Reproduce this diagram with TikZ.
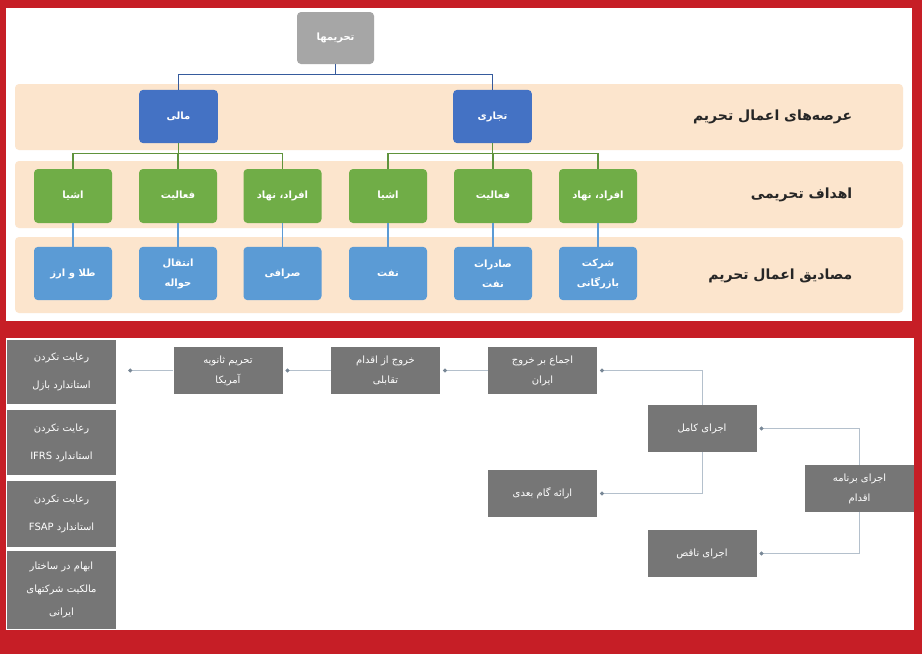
\documentclass[tikz,border=0pt]{standalone}
\usepackage{fontspec}
\newfontfamily\arabicfont[Script=Arabic]{DejaVu Sans}
\TeXXeTstate=1
\newcommand{\fa}[1]{\beginR #1\endR}
\usetikzlibrary{arrows.meta}

\definecolor{framered}{RGB}{198,30,38}
\definecolor{bandpeach}{RGB}{252,229,205}
\definecolor{rootgray}{RGB}{166,166,166}
\definecolor{fieldblue}{RGB}{68,114,196}
\definecolor{targetgreen}{RGB}{112,173,71}
\definecolor{caseblue}{RGB}{91,155,213}
\definecolor{stepgray}{RGB}{118,118,118}
\definecolor{linkgray}{RGB}{180,192,204}
\definecolor{linkdot}{RGB}{120,135,150}

\tikzset{
  chartbox/.style={rounded corners=3pt, text=white, align=center, inner sep=1pt,
    font=\arabicfont\bfseries\fontsize{7.5}{15}\selectfont},
  rootbox/.style={chartbox, fill=rootgray, minimum width=57.75pt, minimum height=39pt},
  fieldbox/.style={chartbox, fill=fieldblue, minimum width=59pt, minimum height=40pt},
  targetbox/.style={chartbox, fill=targetgreen, minimum width=58.5pt, minimum height=40.5pt},
  casebox/.style={chartbox, fill=caseblue, minimum width=58.5pt, minimum height=40pt},
  bandlabel/.style={anchor=east, text=black!85, font=\arabicfont\bfseries\fontsize{10.5}{12}\selectfont},
  rootline/.style={draw=fieldblue!80!black, line width=1pt},
  greenline/.style={draw=targetgreen!85!black, line width=1pt},
  caseline/.style={draw=caseblue, line width=1pt},
  stepbox/.style={fill=stepgray, text=white, align=center, inner sep=1pt,
    minimum width=81.75pt, minimum height=35.25pt, font=\arabicfont\fontsize{7.5}{15}\selectfont},
  sidebox/.style={stepbox, font=\arabicfont\fontsize{7.5}{21}\selectfont},
  link/.style={draw=linkgray, line width=0.6pt, -{Circle[length=3pt, color=linkdot]}, shorten >=2pt},
}

\begin{document}
\begin{tikzpicture}[x=0.75pt, y=-0.75pt]
    \useasboundingbox (0,0) rectangle (922,654);
    \fill[framered] (0,0) rectangle (922,654);
    \fill[white] (6,8) rectangle (912,321);
    \fill[white] (6,338) rectangle (914,630);

    % bands
    \fill[bandpeach, rounded corners=3pt] (15,84) rectangle (903,150);
    \fill[bandpeach, rounded corners=3pt] (15,161) rectangle (903,228);
    \fill[bandpeach, rounded corners=3pt] (15,237) rectangle (903,313);

    \node[bandlabel] (lab1) at (857,117) {\fa{عرصه^^^^200cهای اعمال تحریم}};
    \node[bandlabel] (lab2) at (857,195) {\fa{اهداف تحریمی}};
    \node[bandlabel] (lab3) at (857,276) {\fa{مصادیق اعمال تحریم}};

    % tree
    \node[rootbox] (root) at (335.5,38) {\fa{تحریمها}};
    \node[fieldbox] (mali) at (178.5,116.5) {\fa{مالی}};
    \node[fieldbox] (tejari) at (492.5,116.5) {\fa{تجاری}};

    \foreach \name/\x/\txt in {g1/73/{اشیا}, g2/178/{فعالیت}, g3/282.5/{افراد، نهاد},
                               g4/388/{اشیا}, g5/493/{فعالیت}, g6/598/{افراد، نهاد}}
        \node[targetbox] (\name) at (\x,196) {\fa{\txt}};

    \foreach \name/\x/\txt in {c1/73/{\fa{طلا و ارز}}, c2/178/{\fa{انتقال}\\\fa{حواله}},
                               c3/282.5/{\fa{صرافی}}, c4/388/{\fa{نفت}},
                               c5/493/{\fa{صادرات}\\\fa{نفت}}, c6/598/{\fa{شرکت}\\\fa{بازرگانی}}}
        \node[casebox] (\name) at (\x,273.5) {\txt};

    \draw[rootline] (root.south) -- ++(0,10) coordinate (rj);
    \draw[rootline] (rj) -| (mali.north);
    \draw[rootline] (rj) -| (tejari.north);

    \draw[greenline] (mali.south) -- ++(0,10) coordinate (mj);
    \draw[greenline] (tejari.south) -- ++(0,10) coordinate (tj);
    \foreach \c in {g1,g2,g3}
        \draw[greenline] (mj) -| (\c.north);
    \foreach \c in {g4,g5,g6}
        \draw[greenline] (tj) -| (\c.north);

    \foreach \g/\c in {g1/c1, g2/c2, g3/c3, g4/c4, g5/c5, g6/c6}
        \draw[caseline] (\g.south) -- (\c.north);

    % lower panel
    \node[sidebox, minimum height=48pt] (s1) at (61.5,372) {\fa{رعایت نکردن}\\\fa{استاندارد بازل}};
    \node[sidebox, minimum height=48.75pt] (s2) at (61.5,442.5) {\fa{رعایت نکردن}\\\fa{استاندارد \beginL IFRS\endL}};
    \node[sidebox, minimum height=49.5pt] (s3) at (61.5,514) {\fa{رعایت نکردن}\\\fa{استاندارد \beginL FSAP\endL}};
    \node[sidebox, minimum height=58.5pt, font=\arabicfont\fontsize{7.5}{17}\selectfont] (s4) at (61.5,590)
        {\fa{ابهام در ساختار}\\\fa{مالکیت شرکتهای}\\\fa{ایرانی}};

    \node[stepbox] (tahrim) at (228,370.5) {\fa{تحریم ثانویه}\\\fa{آمریکا}};
    \node[stepbox] (khoruj) at (385.5,370.5) {\fa{خروج از اقدام}\\\fa{تقابلی}};
    \node[stepbox] (ejma) at (542.5,370.5) {\fa{اجماع بر خروج}\\\fa{ایران}};
    \node[stepbox] (kamel) at (702,428.5) {\fa{اجرای کامل}};
    \node[stepbox] (gam) at (542.5,493.5) {\fa{ارائه گام بعدی}};
    \node[stepbox] (barn) at (859.5,488.5) {\fa{اجرای برنامه}\\\fa{اقدام}};
    \node[stepbox] (naghes) at (702,553.5) {\fa{اجرای ناقص}};

    \draw[link] (barn.north) |- (kamel.east);
    \draw[link] (barn.south) |- (naghes.east);
    \draw[link] (kamel.north) |- (ejma.east);
    \draw[link] (kamel.south) |- (gam.east);
    \draw[link] (ejma.west) -- (khoruj.east);
    \draw[link] (khoruj.west) -- (tahrim.east);
    \draw[link, shorten >=9pt] (tahrim.west) -- (tahrim.west -| s1.east);
\end{tikzpicture}
\end{document}
